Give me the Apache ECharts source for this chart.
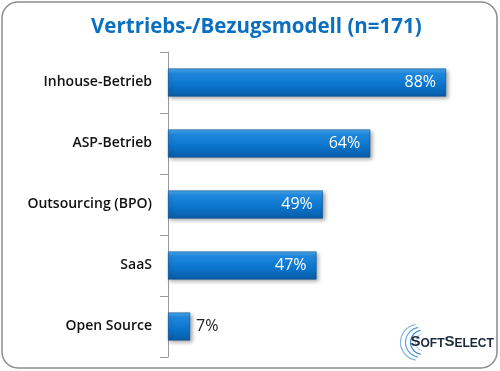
<!DOCTYPE html>
<html><head><meta charset="utf-8">
<script src="https://cdn.jsdelivr.net/npm/echarts@6/dist/echarts.min.js"></script>
<style>html,body{margin:0;padding:0;background:#fff}#c{width:500px;height:371px}</style>
</head><body><div id="c"></div>
<script>
var categories = ['Inhouse-Betrieb', 'ASP-Betrieb', 'Outsourcing (BPO)', 'SaaS', 'Open Source'];
var values = [88, 64, 49, 47, 7];
var titleText = 'Vertriebs-/Bezugsmodell (n=171)';

var chart = echarts.init(document.getElementById('c'));
var grad = new echarts.graphic.LinearGradient(0, 0, 0, 1, [
  {offset: 0, color: '#4AAAF0'}, {offset: 0.18, color: '#1F88DE'},
  {offset: 0.6, color: '#0A74CC'}, {offset: 1, color: '#0A5CA6'}
]);
var logoFont = '"Liberation Sans Narrow", "Liberation Sans", sans-serif';
chart.setOption({
  animation: false,
  title: {text: titleText, left: 86, top: 12,
    textStyle: {color: '#0B6FC0', fontFamily: 'Open Sans', fontWeight: 'bold', fontSize: 20.5}},
  grid: {left: 168, top: 52, width: 316, height: 305},
  xAxis: {type: 'value', min: 0, max: 100, show: false},
  yAxis: {type: 'category', data: categories, inverse: true,
    axisLine: {show: true, lineStyle: {color: '#9a9a9a', width: 1}},
    axisTick: {show: true, length: 8, inside: false, lineStyle: {color: '#9a9a9a'}},
    axisLabel: {color: '#111', fontFamily: 'Open Sans', fontWeight: 600, fontSize: 14, margin: 16}},
  series: [{type: 'bar', data: values.map(function (v) {
      return {value: v, label: v < 15 ? {position: 'right', color: '#222', distance: 6} : {position: 'insideRight', color: '#fff', distance: 10}};
    }),
    barWidth: 28,
    itemStyle: {color: grad, borderColor: '#0A4F90', borderWidth: 0.6,
      shadowColor: 'rgba(0,0,0,0.35)', shadowBlur: 4, shadowOffsetX: 2, shadowOffsetY: 2},
    label: {show: true, formatter: '{c}%', fontFamily: 'Open Sans', fontSize: 16}
  }],
  graphic: [
    {type: 'rect', shape: {x: 2, y: 2, width: 495, height: 366, r: 16}, silent: true,
      style: {fill: 'none', stroke: '#8c8c8c', lineWidth: 1.5}},
    {type: 'group', left: 398, top: 322, children: [
      {type: 'arc', shape: {cx: 22, cy: 18, r: 18, startAngle: Math.PI * 0.55, endAngle: Math.PI * 1.45}, style: {stroke: '#7FB8E0', fill: 'none', lineWidth: 1.2}},
      {type: 'arc', shape: {cx: 24, cy: 18, r: 15, startAngle: Math.PI * 0.55, endAngle: Math.PI * 1.45}, style: {stroke: '#5AA0D8', fill: 'none', lineWidth: 1.2}},
      {type: 'arc', shape: {cx: 26, cy: 18, r: 12, startAngle: Math.PI * 0.55, endAngle: Math.PI * 1.45}, style: {stroke: '#3C88C8', fill: 'none', lineWidth: 1.2}},
      {type: 'arc', shape: {cx: 28, cy: 18, r: 9, startAngle: Math.PI * 0.6, endAngle: Math.PI * 1.4}, style: {stroke: '#9CCBEA', fill: 'none', lineWidth: 1}},
      {type: 'text', x: 14, y: 10, style: {
        text: '{b|S}{s|OFT}{b|S}{s|ELECT}',
        rich: {
          b: {fontFamily: logoFont, fontWeight: 'bold', fontSize: 15, fill: '#1a2a3a', verticalAlign: 'bottom'},
          s: {fontFamily: logoFont, fontWeight: 'bold', fontSize: 12, fill: '#1a2a3a', verticalAlign: 'bottom'}
        }}}
    ]}
  ]
});
</script></body></html>
